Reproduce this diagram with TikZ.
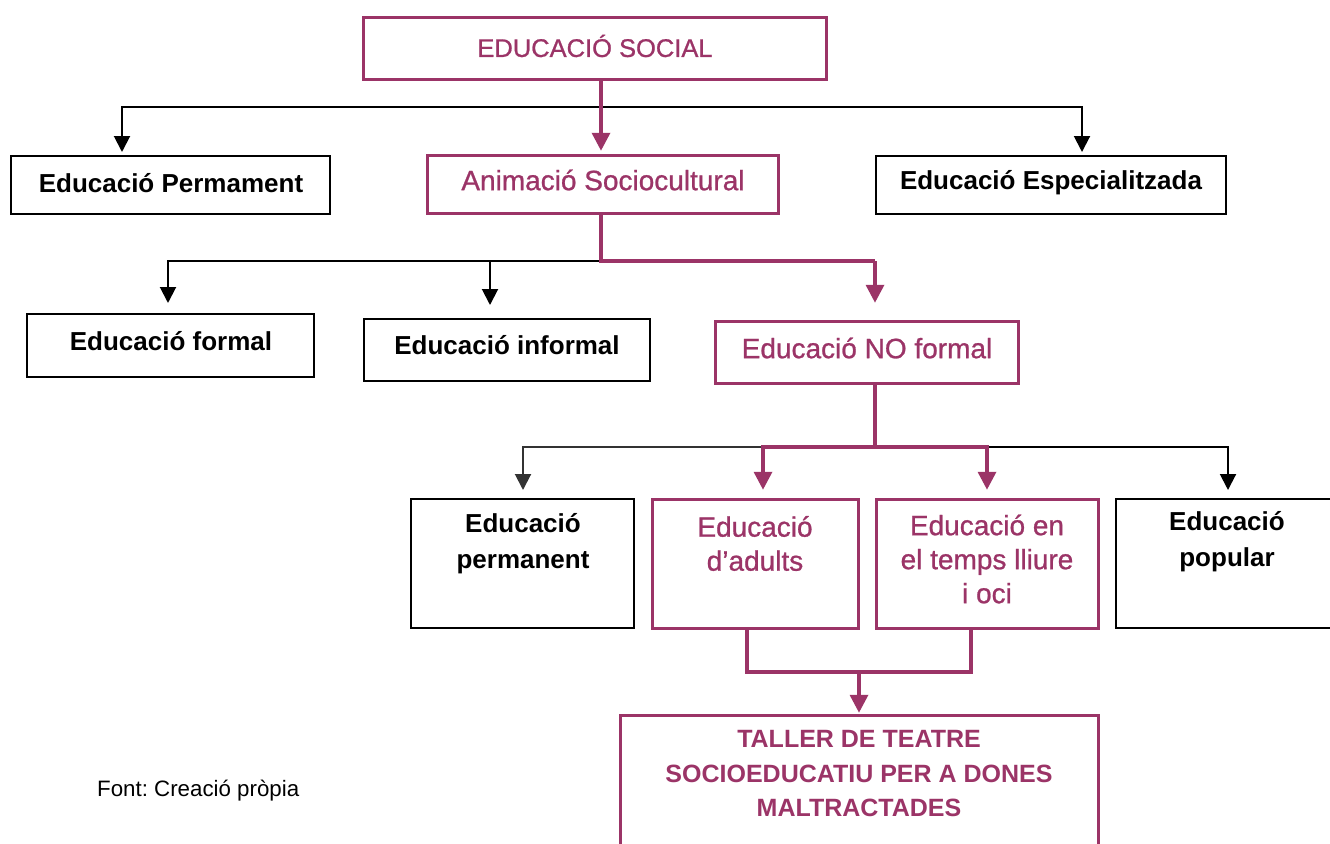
\documentclass[tikz,border=0pt]{standalone}
\usepackage{fontspec}
\setmainfont{Liberation Sans}
\newfontfamily\pfont{Liberation Sans}[FakeBold=0.9]
\usetikzlibrary{arrows.meta}
\definecolor{plum}{RGB}{155,52,103}
\frenchspacing
\begin{document}
\begin{tikzpicture}[x=1pt,y=-1pt,
 pbox/.style={draw=plum,line width=3.5pt,inner sep=0pt},
 bbox/.style={draw=black,line width=2pt,inner sep=0pt},
 ptxt/.style={text=plum,font=\pfont\fontsize{28}{34}\selectfont,align=center,inner sep=0pt},
 pcap/.style={text=plum,font=\pfont\fontsize{25.5}{34}\selectfont,align=center,inner sep=0pt},
 pbold/.style={text=plum,font=\bfseries\fontsize{25}{34.5}\selectfont,align=center,inner sep=0pt},
 btxt/.style={text=black,font=\bfseries\fontsize{26}{36}\selectfont,align=center,inner sep=0pt},
 pline/.style={draw=plum,line width=3.5pt},
 bline/.style={draw=black,line width=2pt},
 parrow/.style={pline,-{Triangle[width=18pt,length=18pt]}},
 barrow/.style={bline,-{Triangle[width=16pt,length=16pt]}},
]
\useasboundingbox (0,0) rectangle (1330,843);

% boxes
\node[pbox,minimum width=463pt,minimum height=62pt] (es)  at (595,48.5) {};
\node[bbox,minimum width=319pt,minimum height=58pt] (ep)  at (170.5,185) {};
\node[pbox,minimum width=351pt,minimum height=58pt] (as)  at (603,184.5) {};
\node[bbox,minimum width=350pt,minimum height=58pt] (ee)  at (1051,185) {};
\node[bbox,minimum width=287pt,minimum height=63pt] (ef)  at (170.5,345.5) {};
\node[bbox,minimum width=286pt,minimum height=62pt] (ei)  at (507,350) {};
\node[pbox,minimum width=303pt,minimum height=62pt] (enf) at (867,352.5) {};
\node[bbox,minimum width=223pt,minimum height=129pt] (epn) at (522.5,563.5) {};
\node[pbox,minimum width=206pt,minimum height=129pt] (ead) at (755.5,564) {};
\node[pbox,minimum width=222pt,minimum height=129pt] (etl) at (987.5,564) {};
\node[bbox,minimum width=228pt,minimum height=129pt] (epo) at (1230,563.5) {};
\node[pbox,minimum width=478pt,minimum height=143pt] (tal) at (859.5,787) {};

% texts
\node[pcap]  (tes)  at (595,46)  {EDUCACIÓ SOCIAL};
\node[btxt]  (tep)  at (171,183) {Educació Permament};
\node[ptxt]  (tas)  at (603,180) {Animació Sociocultural};
\node[btxt]  (tee)  at (1051,183) {Educació Especialitzada};
\node[btxt]  (tef)  at (171,341) {Educació formal};
\node[btxt]  (tei)  at (507,345) {Educació informal};
\node[ptxt]  (tenf) at (867,348) {Educació NO formal};
\node[btxt]  (tepn) at (523,544) {Educació\\permanent};
\node[ptxt]  (tead) at (755,543.5) {Educació\\d’adults};
\node[ptxt]  (tetl) at (987,559) {Educació en\\el temps lliure\\i oci};
\node[btxt]  (tepo) at (1227,542) {Educació\\popular};
\node[pbold] (ttal) at (859,774) {TALLER DE TEATRE\\SOCIOEDUCATIU PER A DONES\\MALTRACTADES};
\node[anchor=west,inner sep=0pt,font=\fontsize{22.3}{26}\selectfont] (src) at (97,791) {Font: Creació pròpia};

% junctions
\coordinate (j1) at (601,107);
\coordinate (j2) at (601,261);
\coordinate (j2b) at (875,261);
\coordinate (j3) at (875,447);
\coordinate (j4a) at (747,672);
\coordinate (j4b) at (971,672);
\coordinate (j4) at (859,672);

% level 1
\draw[barrow,shorten >=3pt] (j1) -| (122,0 |- ep.north);
\draw[barrow,shorten >=3pt] (j1) -| (1082,0 |- ee.north);
\draw[parrow,shorten >=3pt] (601,0 |- es.south) -- (601,0 |- as.north);

% level 2
\draw[barrow,shorten >=10pt] (j2) -| (168,0 |- ef.north);
\draw[barrow,shorten >=13pt] (j2) -| (490,0 |- ei.north);
\draw[pline] (601,0 |- as.south) -- (j2) -- (j2b);
\draw[parrow,shorten >=17pt] (j2b) -- (875,0 |- enf.north);

% level 3
\draw[barrow,shorten >=8pt,draw=black!80] (j3) -| (523,0 |- epn.north);
\draw[barrow,shorten >=8pt] (j3) -| (1228,0 |- epo.north);
\draw[pline] (875,0 |- enf.south) -- (j3);
\draw[parrow,shorten >=8pt] (j3) -| (763,0 |- ead.north);
\draw[parrow,shorten >=8pt] (j3) -| (987,0 |- etl.north);

% level 4
\draw[pline] (747,0 |- ead.south) -- (j4a) -- (j4b) -- (971,0 |- etl.south);
\draw[parrow,shorten >=1pt] (j4) -- (859,0 |- tal.north);
\end{tikzpicture}
\end{document}
